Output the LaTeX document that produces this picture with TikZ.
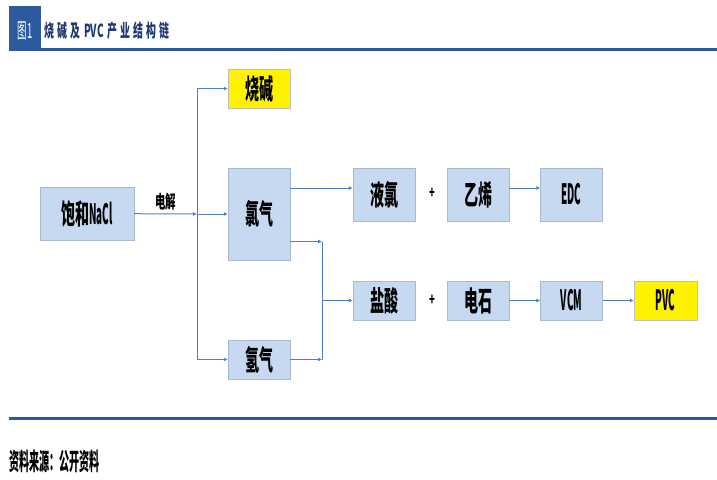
\documentclass[tikz,border=0pt]{standalone}
\usepackage{fontspec}
\setmainfont{Noto Sans CJK SC}
\usepackage{graphicx}
\usepackage{tikz}
\usetikzlibrary{arrows.meta, positioning, calc}

\definecolor{boxfill}{RGB}{198,217,240}
\definecolor{boxline}{RGB}{170,186,206}
\definecolor{flow}{RGB}{79,129,189}
\definecolor{headblue}{RGB}{44,90,158}
\definecolor{titleblue}{RGB}{31,56,110}

% condensed text, as in the source figure
\newcommand{\narrow}[2][0.5]{\scalebox{#1}[1]{#2}}
\newcommand{\latn}[1]{\scalebox{0.35}[1]{#1}}

\begin{document}
\begin{tikzpicture}[
    x=1pt, y=-1pt,
    >={Latex[length=4pt,width=4pt]},
    item/.style={draw=boxline, fill=boxfill, minimum width=62pt, minimum height=53pt,
                 inner sep=0pt, font=\fontsize{28}{28}\selectfont\bfseries},
    product/.style={item, draw=black!25, fill=yellow},
    arr/.style={->, flow, line width=1pt},
    bus/.style={flow, line width=1pt},
    rule/.style={headblue, line width=3pt},
]
\useasboundingbox (0,0) rectangle (717,479);

% --- header ---
\fill[headblue] (9,6) rectangle (41,49);
\node[text=white, font=\fontsize{21}{21}\selectfont] (fig) at (25,31) {\narrow[0.45]{图1}};
\node[anchor=west, text=titleblue, font=\fontsize{18}{18}\selectfont\bfseries] (title) at (41,31)
    {\narrow[0.55]{烧\hspace{6pt}碱\hspace{6pt}及\hspace{6pt}PVC\hspace{6pt}产\hspace{6pt}业\hspace{6pt}结\hspace{6pt}构\hspace{6pt}链}};
\draw[rule] (9,49) -- (717,49);

% --- raw material and electrolysis products ---
\node[item, minimum width=94pt] (nacl) at (87,213.5) {\narrow{饱和}\latn{NaCl}};
\node[product, minimum height=39pt] (jian) at (259,88.5) {\narrow{烧碱}};
\node[item, minimum height=92pt] (cl2) at (259,214) {\narrow{氯气}};
\node[item, minimum height=39pt] (h2) at (259,359.5) {\narrow{氢气}};

% --- chlorine chain ---
\node[item] (ylv) at (384,194.5) {\narrow{液氯}};
\node[item] (yx) at (478,194.5) {\narrow{乙烯}};
\node[item] (edc) at (571.5,194.5) {\latn{EDC}};
\node[font=\fontsize{16}{16}\selectfont\bfseries] (plus1) at (432,193) {\narrow[0.6]{+}};

% --- HCl chain ---
\node[item, minimum height=39pt] (hcl) at (384,300.5) {\narrow{盐酸}};
\node[item, minimum height=39pt] (ds) at (478,300.5) {\narrow{电石}};
\node[item, minimum height=39pt] (vcm) at (571.5,300.5) {\latn{VCM}};
\node[product, minimum height=39pt, minimum width=63pt] (pvc) at (665.5,300.5) {\latn{PVC}};
\node[font=\fontsize{16}{16}\selectfont\bfseries] (plus2) at (432,300) {\narrow[0.6]{+}};

% --- connectors ---
\coordinate (split) at (197,214);
\draw[arr] (nacl) -- node[above, black, font=\fontsize{18}{18}\selectfont\bfseries] {\narrow[0.58]{电解}} (split);
\draw[bus] (split |- jian) -- (split |- h2);
\draw[arr] (split |- jian) -- (jian);
\draw[arr] (split) -- (cl2);
\draw[arr] (split |- h2) -- (h2);

\coordinate (c1) at ([yshift=26pt]cl2.east);
\coordinate (c2) at ([yshift=-27.5pt]cl2.east);
\coordinate (merge) at (322,300.5);
\draw[arr] (c1) -- (c1 -| ylv.west);
\draw[arr] (c1 -| yx.east) -- (c1 -| edc.west);
\draw[arr] (c2) -- (c2 -| merge);
\draw[arr] (h2) -- (h2 -| merge);
\draw[bus] (c2 -| merge) -- (h2 -| merge);
\draw[arr] (merge) -- (hcl);
\draw[arr] (ds) -- (vcm);
\draw[arr] (vcm) -- (pvc);

% --- footer ---
\draw[rule] (9,418) -- (717,418);
\node[anchor=west, inner sep=0pt, font=\fontsize{24}{24}\selectfont\bfseries] (src) at (9,461) {\narrow[0.42]{资料来源：公开资料}};
\end{tikzpicture}
\end{document}
